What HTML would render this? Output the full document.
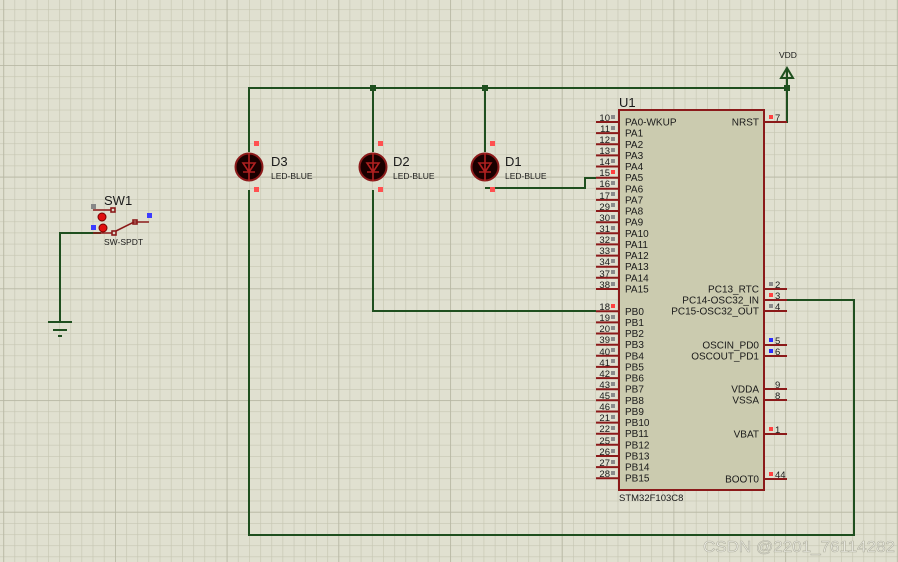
<!DOCTYPE html>
<html><head><meta charset="utf-8"><style>
html,body{margin:0;padding:0;background:#e0e0d0}
svg{display:block}
text{font-family:"Liberation Sans",sans-serif;fill:#1a1a1a}
.pn{font-size:9.5px;text-anchor:end}
.nm{font-size:10px}
.nr{font-size:10px;text-anchor:end}
</style></head><body>
<svg width="898" height="562" viewBox="0 0 898 562" xmlns="http://www.w3.org/2000/svg">
<defs>
<pattern id="mi" patternUnits="userSpaceOnUse" x="3.3" y="9.2" width="11.17" height="11.17">
<path d="M0 0H11.17M0 0V11.17" stroke="#c6c6b2" stroke-width="1.3" fill="none"/></pattern>
<pattern id="ma" patternUnits="userSpaceOnUse" x="3.3" y="65" width="111.7" height="111.7">
<path d="M0 0H111.7M0 0V111.7" stroke="#b5b5a2" stroke-width="1.5" fill="none"/></pattern>
</defs>
<rect width="898" height="562" fill="#e0e0d0"/>
<rect width="898" height="562" fill="url(#mi)"/>
<rect width="898" height="562" fill="url(#ma)"/>

<g stroke="#1f4f1f" stroke-width="2" fill="none">
<path d="M249 190V535H854V300H787"/>
<path d="M249 152V88H787"/>
<path d="M787 78V122H764"/>
<path d="M373 152V88"/><path d="M373 190V311H596"/>
<path d="M485 152V88"/><path d="M485 188H585V178H596"/>
<path d="M101 233H60V322"/>
<path d="M48 322H72M53 330H67M58 336H62" stroke-width="2"/>
<path d="M787 78L781 78L787 68L793 78Z" stroke-width="2"/>
<path d="M787 68V82"/>
</g>
<g fill="#1f4f1f"><rect x="370" y="85" width="6" height="6"/><rect x="482" y="85" width="6" height="6"/><rect x="784" y="85" width="6" height="6"/></g>
<text x="779" y="58" style="font-size:8.5px">VDD</text>

<g>
<g transform="translate(249,167)"><circle r="13.5" fill="#1a0000" stroke="#8b1a1a" stroke-width="2"/><path d="M-6 -4H6L0 5Z M-6 5H6 M0 -14V14" stroke="#b02020" stroke-width="1.6" fill="none"/><rect x="5" y="-26" width="5" height="5" fill="#ff5050"/><rect x="5" y="20" width="5" height="5" fill="#ff5050"/></g>
<g transform="translate(373,167)"><circle r="13.5" fill="#1a0000" stroke="#8b1a1a" stroke-width="2"/><path d="M-6 -4H6L0 5Z M-6 5H6 M0 -14V14" stroke="#b02020" stroke-width="1.6" fill="none"/><rect x="5" y="-26" width="5" height="5" fill="#ff5050"/><rect x="5" y="20" width="5" height="5" fill="#ff5050"/></g>
<g transform="translate(485,167)"><circle r="13.5" fill="#1a0000" stroke="#8b1a1a" stroke-width="2"/><path d="M-6 -4H6L0 5Z M-6 5H6 M0 -14V14" stroke="#b02020" stroke-width="1.6" fill="none"/><rect x="5" y="-26" width="5" height="5" fill="#ff5050"/><rect x="5" y="20" width="5" height="5" fill="#ff5050"/></g>
</g>
<text x="271" y="166" style="font-size:13px">D3</text><text x="271" y="179" style="font-size:8.5px">LED-BLUE</text>
<text x="393" y="166" style="font-size:13px">D2</text><text x="393" y="179" style="font-size:8.5px">LED-BLUE</text>
<text x="505" y="166" style="font-size:13px">D1</text><text x="505" y="179" style="font-size:8.5px">LED-BLUE</text>

<g stroke="#8b1a1a" stroke-width="1.6" fill="none">
<path d="M93 210H111"/><rect x="111" y="208" width="4" height="4"/>
<path d="M93 233H112"/><rect x="112" y="231" width="4" height="4"/>
<path d="M116 231L134 222H149"/><rect x="133" y="220" width="4" height="4"/>
</g>
<circle cx="102" cy="217" r="4" fill="#e01010" stroke="#700" stroke-width="1"/>
<circle cx="103" cy="228" r="4" fill="#e01010" stroke="#700" stroke-width="1"/>
<rect x="91" y="204" width="5" height="5" fill="#888"/>
<rect x="91" y="225" width="5" height="5" fill="#3b3bff"/>
<rect x="147" y="213" width="5" height="5" fill="#3b3bff"/>
<text x="104" y="205" style="font-size:13px">SW1</text>
<text x="104" y="245" style="font-size:8.5px">SW-SPDT</text>

<rect x="619" y="110" width="145" height="380" fill="#cbcbaf" stroke="#8b1a1a" stroke-width="2"/>
<text x="619" y="107" style="font-size:13px">U1</text>
<text x="619" y="501" style="font-size:9.5px">STM32F103C8</text>
<g stroke="#8b1a1a" stroke-width="2">
<path d="M596 122H619M596 133.1H619M596 144.3H619M596 155.4H619M596 166.5H619M596 177.7H619M596 188.8H619M596 199.9H619M596 211H619M596 222.2H619M596 233.3H619M596 244.4H619M596 255.6H619M596 266.7H619M596 277.8H619M596 289H619"/>
<path d="M596 311.3H619M596 322.4H619M596 333.5H619M596 344.7H619M596 355.8H619M596 366.9H619M596 378.1H619M596 389.2H619M596 400.3H619M596 411.5H619M596 422.6H619M596 433.7H619M596 444.8H619M596 456H619M596 467.1H619M596 478.2H619"/>
<path d="M764 122H787M764 289H787M764 300H787M764 311H787M764 345H787M764 356H787M764 389H787M764 400H787M764 434H787M764 479H787"/>
</g>
<g fill="#8a8a8a">
<rect x="611" y="115" width="4" height="4"/><rect x="611" y="126" width="4" height="4"/><rect x="611" y="137" width="4" height="4"/><rect x="611" y="148" width="4" height="4"/><rect x="611" y="159" width="4" height="4"/><rect x="611" y="181" width="4" height="4"/><rect x="611" y="192" width="4" height="4"/><rect x="611" y="203" width="4" height="4"/><rect x="611" y="215" width="4" height="4"/><rect x="611" y="226" width="4" height="4"/><rect x="611" y="237" width="4" height="4"/><rect x="611" y="248" width="4" height="4"/><rect x="611" y="259" width="4" height="4"/><rect x="611" y="270" width="4" height="4"/><rect x="611" y="282" width="4" height="4"/>
<rect x="611" y="315" width="4" height="4"/><rect x="611" y="326" width="4" height="4"/><rect x="611" y="337" width="4" height="4"/><rect x="611" y="348" width="4" height="4"/><rect x="611" y="359" width="4" height="4"/><rect x="611" y="371" width="4" height="4"/><rect x="611" y="382" width="4" height="4"/><rect x="611" y="393" width="4" height="4"/><rect x="611" y="404" width="4" height="4"/><rect x="611" y="415" width="4" height="4"/><rect x="611" y="426" width="4" height="4"/><rect x="611" y="437" width="4" height="4"/><rect x="611" y="449" width="4" height="4"/><rect x="611" y="460" width="4" height="4"/><rect x="611" y="471" width="4" height="4"/>
<rect x="769" y="282" width="4" height="4"/><rect x="769" y="304" width="4" height="4"/>
</g>
<g fill="#ff4040"><rect x="611" y="170" width="4" height="4"/><rect x="611" y="304" width="4" height="4"/><rect x="769" y="115" width="4" height="4"/><rect x="769" y="293" width="4" height="4"/><rect x="769" y="427" width="4" height="4"/><rect x="769" y="472" width="4" height="4"/></g>
<g fill="#2a2aff"><rect x="769" y="338" width="4" height="4"/><rect x="769" y="349" width="4" height="4"/></g>

<g class="pn">
<text x="610" y="121">10</text><text x="610" y="132">11</text><text x="610" y="143">12</text><text x="610" y="154">13</text><text x="610" y="165">14</text><text x="610" y="176">15</text><text x="610" y="187">16</text><text x="610" y="199">17</text><text x="610" y="210">29</text><text x="610" y="221">30</text><text x="610" y="232">31</text><text x="610" y="243">32</text><text x="610" y="254">33</text><text x="610" y="265">34</text><text x="610" y="277">37</text><text x="610" y="288">38</text>
<text x="610" y="310">18</text><text x="610" y="321">19</text><text x="610" y="332">20</text><text x="610" y="343">39</text><text x="610" y="355">40</text><text x="610" y="366">41</text><text x="610" y="377">42</text><text x="610" y="388">43</text><text x="610" y="399">45</text><text x="610" y="410">46</text><text x="610" y="421">21</text><text x="610" y="432">22</text><text x="610" y="444">25</text><text x="610" y="455">26</text><text x="610" y="466">27</text><text x="610" y="477">28</text>
</g>
<g style="font-size:9.5px">
<text x="775" y="121">7</text><text x="775" y="288">2</text><text x="775" y="299">3</text><text x="775" y="310">4</text><text x="775" y="344">5</text><text x="775" y="355">6</text><text x="775" y="388">9</text><text x="775" y="399">8</text><text x="775" y="433">1</text><text x="775" y="478">44</text>
</g>
<g class="nm">
<text x="625" y="125.5">PA0-WKUP</text><text x="625" y="136.6">PA1</text><text x="625" y="147.8">PA2</text><text x="625" y="158.9">PA3</text><text x="625" y="170">PA4</text><text x="625" y="181.2">PA5</text><text x="625" y="192.3">PA6</text><text x="625" y="203.4">PA7</text><text x="625" y="214.5">PA8</text><text x="625" y="225.7">PA9</text><text x="625" y="236.8">PA10</text><text x="625" y="247.9">PA11</text><text x="625" y="259.1">PA12</text><text x="625" y="270.2">PA13</text><text x="625" y="281.3">PA14</text><text x="625" y="292.5">PA15</text>
<text x="625" y="314.8">PB0</text><text x="625" y="325.9">PB1</text><text x="625" y="337">PB2</text><text x="625" y="348.2">PB3</text><text x="625" y="359.3">PB4</text><text x="625" y="370.4">PB5</text><text x="625" y="381.6">PB6</text><text x="625" y="392.7">PB7</text><text x="625" y="403.8">PB8</text><text x="625" y="415">PB9</text><text x="625" y="426.1">PB10</text><text x="625" y="437.2">PB11</text><text x="625" y="448.3">PB12</text><text x="625" y="459.5">PB13</text><text x="625" y="470.6">PB14</text><text x="625" y="481.7">PB15</text>
</g>
<g class="nr">
<text x="759" y="125.5">NRST</text><text x="759" y="292.5">PC13_RTC</text><text x="759" y="303.5">PC14-OSC32_IN</text><text x="759" y="314.5">PC15-OSC32_OUT</text><text x="759" y="348.5">OSCIN_PD0</text><text x="759" y="359.5">OSCOUT_PD1</text><text x="759" y="392.5">VDDA</text><text x="759" y="403.5">VSSA</text><text x="759" y="437.5">VBAT</text><text x="759" y="482.5">BOOT0</text>
</g>
<text x="703" y="552" textLength="192" lengthAdjust="spacingAndGlyphs" style="font-size:16px;fill:#f2f2ea;stroke:#b0b0a0;stroke-width:0.6">CSDN @2201_76114282</text>
</svg>
</body></html>
